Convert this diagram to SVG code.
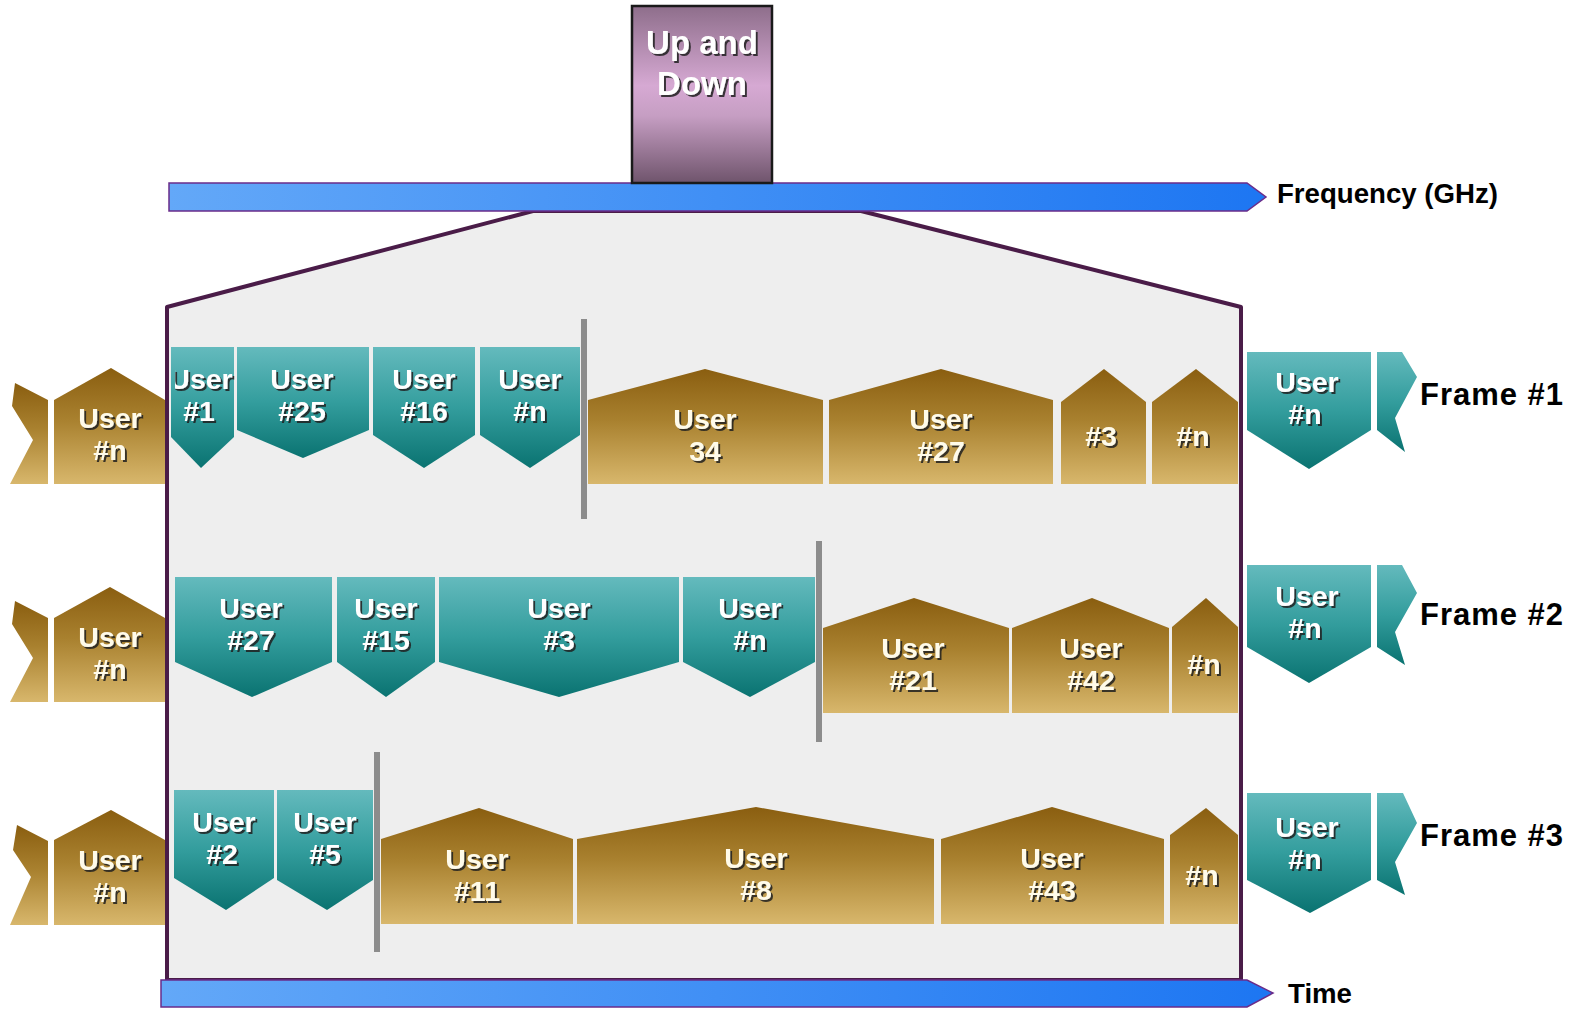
<svg xmlns="http://www.w3.org/2000/svg" width="1579" height="1013" viewBox="0 0 1579 1013">
<defs>
<linearGradient id="gold" x1="0" y1="0" x2="0" y2="1"><stop offset="0" stop-color="#8a5e10"/><stop offset="0.45" stop-color="#a9812f"/><stop offset="1" stop-color="#d8b76c"/></linearGradient>
<linearGradient id="teal" x1="0" y1="0" x2="0" y2="1"><stop offset="0" stop-color="#64babd"/><stop offset="0.5" stop-color="#339d9d"/><stop offset="1" stop-color="#0a7371"/></linearGradient>
<linearGradient id="purp" x1="0" y1="0" x2="0" y2="1"><stop offset="0" stop-color="#8e6e8b"/><stop offset="0.45" stop-color="#d6a9d3"/><stop offset="0.62" stop-color="#c69ec3"/><stop offset="1" stop-color="#6f546c"/></linearGradient>
<linearGradient id="blue" x1="0" y1="0" x2="1" y2="0"><stop offset="0" stop-color="#63a8f8"/><stop offset="1" stop-color="#1d76f2"/></linearGradient>
<filter id="sh" x="-20%" y="-20%" width="140%" height="140%"><feDropShadow dx="2" dy="2" stdDeviation="0.7" flood-color="#1e1e1e" flood-opacity="0.85"/></filter>
<clipPath id="pc"><rect x="175" y="0" width="1066" height="1013"/></clipPath>
</defs>
<style>
.g{fill:url(#gold)}
.t{fill:url(#teal)}
.lb{font-family:"Liberation Sans",Arial,sans-serif;font-weight:bold;font-size:28.5px;text-anchor:middle;filter:url(#sh)}
.lg{fill:#fffbea}
.lt{fill:#ffffff}
.sep{fill:#8c8c8c}
.ax{fill:url(#blue);stroke:#6a2c8a;stroke-width:1.5}
.cap{font-family:"Liberation Sans",Arial,sans-serif;font-weight:bold;fill:#000}
</style>
<rect width="1579" height="1013" fill="#ffffff"/>

<g id="panel">
<polygon points="167,980 167,307 533,211 861,211 1241,307 1241,980" fill="#eeeeee" stroke="#4a1c48" stroke-width="4" stroke-linejoin="round"/>
</g>

<g id="connectors">
<polygon class="ax" points="169,183 1247,183 1266,197 1247,211 169,211"/>
<polygon class="ax" points="161,980 1247,980 1273,993 1247,1007 161,1007"/>
</g>

<g id="updown">
<rect x="632" y="6" width="140" height="177" fill="url(#purp)" stroke="#1a1a1a" stroke-width="2.5"/>
<text class="lb lt" x="702" y="54" style="font-size:33px">Up and</text>
<text class="lb lt" x="702" y="95" style="font-size:33px">Down</text>
</g>

<g id="labels">
<text class="cap" x="1277" y="203" font-size="27" textLength="221" lengthAdjust="spacingAndGlyphs">Frequency (GHz)</text>
<text class="cap" x="1288" y="1003" font-size="28" textLength="64" lengthAdjust="spacingAndGlyphs">Time</text>
<text class="cap" x="1420" y="405" font-size="31" textLength="143" lengthAdjust="spacing">Frame #1</text>
<text class="cap" x="1420" y="625" font-size="31" textLength="143" lengthAdjust="spacing">Frame #2</text>
<text class="cap" x="1420" y="846" font-size="31" textLength="143" lengthAdjust="spacing">Frame #3</text>
</g>

<!-- Frame 1 -->
<g id="f1-tail-left"><polygon class="g" points="15,383 48,400 48,484 10,484 33,440 12,406"/></g>
<g id="f1-user-n-left"><polygon class="g" points="54,400 111,368 165,400 165,484 54,484"/>
<text class="lb lg" x="110" y="428">User</text><text class="lb lg" x="110" y="460">#n</text></g>
<g id="f1-user1"><polygon class="t" points="171,347 234,347 234,437 201,468 171,437"/>
<g clip-path="url(#pc)"><text class="lb lt" x="201" y="389">User</text></g><text class="lb lt" x="199" y="421">#1</text></g>
<g id="f1-user25"><polygon class="t" points="237,347 369,347 369,430 303,458 237,430"/>
<text class="lb lt" x="302" y="389">User</text><text class="lb lt" x="302" y="421">#25</text></g>
<g id="f1-user16"><polygon class="t" points="373,347 475,347 475,435 424,468 373,435"/>
<text class="lb lt" x="424" y="389">User</text><text class="lb lt" x="424" y="421">#16</text></g>
<g id="f1-usern"><polygon class="t" points="480,347 580,347 580,435 530,468 480,435"/>
<text class="lb lt" x="530" y="389">User</text><text class="lb lt" x="530" y="421">#n</text></g>
<g id="f1-sep"><rect class="sep" x="581" y="319" width="6" height="200"/></g>
<g id="f1-user34"><polygon class="g" points="588,400 705,369 823,400 823,484 588,484"/>
<text class="lb lg" x="705" y="429">User</text><text class="lb lg" x="705" y="461">34</text></g>
<g id="f1-user27"><polygon class="g" points="829,400 941,369 1053,400 1053,484 829,484"/>
<text class="lb lg" x="941" y="429">User</text><text class="lb lg" x="941" y="461">#27</text></g>
<g id="f1-3"><polygon class="g" points="1061,402 1104,369 1146,402 1146,484 1061,484"/>
<text class="lb lg" x="1101" y="446">#3</text></g>
<g id="f1-n"><polygon class="g" points="1152,402 1196,369 1238,402 1238,484 1152,484"/>
<text class="lb lg" x="1193" y="446">#n</text></g>
<g id="f1-user-n-right"><polygon class="t" points="1247,352 1371,352 1371,430 1309,469 1247,430"/>
<text class="lb lt" x="1307" y="392">User</text><text class="lb lt" x="1305" y="424">#n</text></g>
<g id="f1-tail-right"><polygon class="t" points="1377,352 1402,352 1417,377 1395,418 1405,452 1377,430"/></g>

<!-- Frame 2 -->
<g id="f2-tail-left"><polygon class="g" points="15,601 48,618 48,702 10,702 33,658 12,624"/></g>
<g id="f2-user-n-left"><polygon class="g" points="54,618 110,587 165,618 165,702 54,702"/>
<text class="lb lg" x="110" y="647">User</text><text class="lb lg" x="110" y="679">#n</text></g>
<g id="f2-user27"><polygon class="t" points="175,577 332,577 332,662 252,697 175,662"/>
<text class="lb lt" x="251" y="618">User</text><text class="lb lt" x="251" y="650">#27</text></g>
<g id="f2-user15"><polygon class="t" points="337,577 435,577 435,662 386,697 337,662"/>
<text class="lb lt" x="386" y="618">User</text><text class="lb lt" x="386" y="650">#15</text></g>
<g id="f2-user3"><polygon class="t" points="439,577 679,577 679,662 559,697 439,662"/>
<text class="lb lt" x="559" y="618">User</text><text class="lb lt" x="559" y="650">#3</text></g>
<g id="f2-usern"><polygon class="t" points="683,577 815,577 815,662 750,697 683,662"/>
<text class="lb lt" x="750" y="618">User</text><text class="lb lt" x="750" y="650">#n</text></g>
<g id="f2-sep"><rect class="sep" x="816" y="541" width="6" height="201"/></g>
<g id="f2-user21"><polygon class="g" points="823,628 914,598 1009,628 1009,713 823,713"/>
<text class="lb lg" x="913" y="658">User</text><text class="lb lg" x="913" y="690">#21</text></g>
<g id="f2-user42"><polygon class="g" points="1012,628 1092,598 1169,628 1169,713 1012,713"/>
<text class="lb lg" x="1091" y="658">User</text><text class="lb lg" x="1091" y="690">#42</text></g>
<g id="f2-n"><polygon class="g" points="1172,627 1206,598 1238,627 1238,713 1172,713"/>
<text class="lb lg" x="1204" y="674">#n</text></g>
<g id="f2-user-n-right"><polygon class="t" points="1247,565 1371,565 1371,647 1309,683 1247,647"/>
<text class="lb lt" x="1307" y="606">User</text><text class="lb lt" x="1305" y="638">#n</text></g>
<g id="f2-tail-right"><polygon class="t" points="1377,565 1402,565 1417,593 1395,632 1405,665 1377,647"/></g>

<!-- Frame 3 -->
<g id="f3-tail-left"><polygon class="g" points="17,825 48,841 48,925 10,925 31,877 13,850"/></g>
<g id="f3-user-n-left"><polygon class="g" points="54,840 111,810 165,840 165,925 54,925"/>
<text class="lb lg" x="110" y="870">User</text><text class="lb lg" x="110" y="902">#n</text></g>
<g id="f3-user2"><polygon class="t" points="174,790 274,790 274,878 226,910 174,878"/>
<text class="lb lt" x="224" y="832">User</text><text class="lb lt" x="222" y="864">#2</text></g>
<g id="f3-user5"><polygon class="t" points="277,790 373,790 373,880 327,910 277,880"/>
<text class="lb lt" x="325" y="832">User</text><text class="lb lt" x="325" y="864">#5</text></g>
<g id="f3-sep"><rect class="sep" x="374" y="752" width="6" height="200"/></g>
<g id="f3-user11"><polygon class="g" points="381,839 479,808 573,839 573,924 381,924"/>
<text class="lb lg" x="477" y="869">User</text><text class="lb lg" x="477" y="901">#11</text></g>
<g id="f3-user8"><polygon class="g" points="577,839 756,807 934,839 934,924 577,924"/>
<text class="lb lg" x="756" y="868">User</text><text class="lb lg" x="756" y="900">#8</text></g>
<g id="f3-user43"><polygon class="g" points="941,839 1052,807 1164,839 1164,924 941,924"/>
<text class="lb lg" x="1052" y="868">User</text><text class="lb lg" x="1052" y="900">#43</text></g>
<g id="f3-n"><polygon class="g" points="1170,835 1206,808 1238,835 1238,924 1170,924"/>
<text class="lb lg" x="1202" y="885">#n</text></g>
<g id="f3-user-n-right"><polygon class="t" points="1247,793 1371,793 1371,880 1310,913 1247,880"/>
<text class="lb lt" x="1307" y="837">User</text><text class="lb lt" x="1305" y="869">#n</text></g>
<g id="f3-tail-right"><polygon class="t" points="1377,793 1403,793 1417,823 1395,862 1405,895 1377,880"/></g>
</svg>
